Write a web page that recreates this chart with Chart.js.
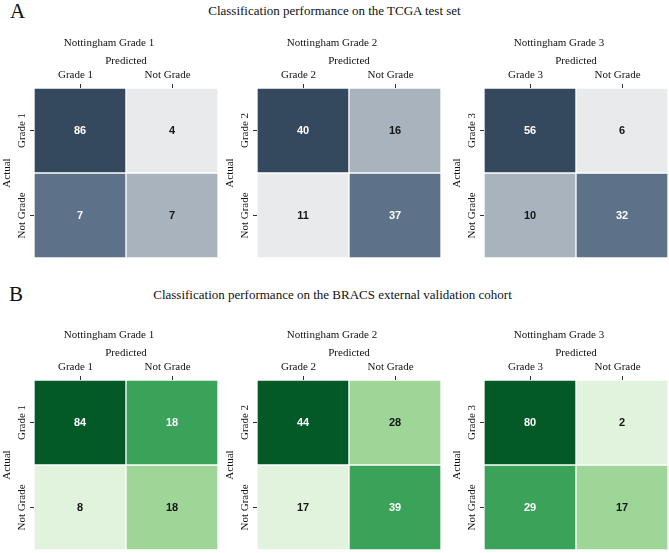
<!DOCTYPE html>
<html><head><meta charset="utf-8">
<script src="https://cdn.jsdelivr.net/npm/chart.js@4/dist/chart.umd.min.js"></script>
<style>
html,body{margin:0;padding:0;background:#fff;width:669px;height:553px;overflow:hidden;position:relative;font-family:'Liberation Serif',serif;}
.lbl{position:absolute;color:#111;white-space:nowrap;}
.box{position:absolute;width:218px;height:228px;}
</style></head><body>
<div class="lbl" style="left:10px;top:1px;font-size:21px;line-height:21px;">A</div>
<div class="lbl" style="left:0;width:669px;text-align:center;top:4px;font-size:13px;line-height:13px;">Classification performance on the TCGA test set</div>
<div class="lbl" style="left:9px;top:284px;font-size:21px;line-height:21px;">B</div>
<div class="lbl" style="left:0;width:665px;text-align:center;top:288px;font-size:13px;line-height:13px;">Classification performance on the BRACS external validation cohort</div>
<div class="box" style="left:0;top:30px"><canvas id="a1"></canvas></div>
<div class="box" style="left:223px;top:30px"><canvas id="a2"></canvas></div>
<div class="box" style="left:450px;top:30px"><canvas id="a3"></canvas></div>
<div class="box" style="left:0;top:322px"><canvas id="b1"></canvas></div>
<div class="box" style="left:223px;top:322px"><canvas id="b2"></canvas></div>
<div class="box" style="left:450px;top:322px"><canvas id="b3"></canvas></div>
<script>
// ---- data ----
const gradeTitles = ["Nottingham Grade 1", "Nottingham Grade 2", "Nottingham Grade 3"];
const gradeLabels = ["Grade 1", "Grade 2", "Grade 3"];
const otherLabel = "Not Grade";
// row-major: [actual grade/pred grade, actual grade/pred not, actual not/pred grade, actual not/pred not]
const tcgaG1 = [86, 4, 7, 7];
const tcgaG2 = [40, 16, 11, 37];
const tcgaG3 = [56, 6, 10, 32];
const bracsG1 = [84, 18, 8, 18];
const bracsG2 = [44, 28, 17, 39];
const bracsG3 = [80, 2, 29, 17];

// ---- styles ----
const bluePalette = ['#35495e', '#5d7189', '#a9b3be', '#e9eaec'];
const greenPalette = ['#035a27', '#3ba25a', '#9dd697', '#e1f3dc'];
const serif = 'Liberation Serif';
const txt = '#111';

function ranks(vals) {
  const idx = vals.map((v, i) => i).sort((a, b) => (vals[b] - vals[a]) || (a - b));
  const r = new Array(vals.length);
  idx.forEach((k, pos) => r[k] = pos);
  return r;
}

const cellText = {
  id: 'cellText',
  afterDatasetsDraw(chart) {
    const o = chart.options.plugins.cellText;
    const ctx = chart.ctx;
    ctx.save();
    ctx.font = 'bold 11px "Liberation Sans", Arial, sans-serif';
    ctx.textAlign = 'center';
    ctx.textBaseline = 'middle';
    chart.data.datasets.forEach((ds, r) => {
      chart.getDatasetMeta(r).data.forEach((bar, c) => {
        const k = r * ds.data.length + c;
        const p = bar.getCenterPoint();
        ctx.fillStyle = o.rank[k] < 2 ? '#ffffff' : '#151515';
        ctx.fillText(String(o.values[k]), p.x, p.y + 0.5);
      });
    });
    ctx.restore();
  }
};

function makeMatrix(id, title, values, gradeIdx, palette) {
  const labels = [gradeLabels[gradeIdx], otherLabel];
  const rk = ranks(values);
  const n = labels.length;
  const datasets = labels.map((rowLab, r) => ({
    label: rowLab,
    data: labels.map(() => [n - 1 - r, n - r]),
    backgroundColor: labels.map((_, c) => palette[rk[r * n + c]]),
    borderColor: '#ffffff',
    borderWidth: 1,
    borderSkipped: false,
    grouped: false,
    barPercentage: 1,
    categoryPercentage: 1
  }));
  const f = { family: serif, size: 11, weight: 'normal' };
  new Chart(document.getElementById(id), {
    type: 'bar',
    data: { labels, datasets },
    plugins: [cellText],
    options: {
      responsive: true, maintainAspectRatio: false, animation: false,
      layout: { padding: 0 },
      plugins: {
        legend: { display: false }, tooltip: { enabled: false },
        title: { display: true, text: title, color: txt, font: f, padding: { top: 6.5, bottom: 2.3 } },
        cellText: { values, rank: rk }
      },
      scales: {
        x: {
          position: 'top', offset: true,
          grid: { display: true, offset: false, drawOnChartArea: false, drawTicks: true, tickLength: 4, color: '#333' },
          border: { display: false },
          ticks: { color: txt, font: f, padding: 2.4, maxRotation: 0, minRotation: 0, labelOffset: -4.5 },
          title: { display: true, text: 'Predicted', color: txt, font: f, padding: { top: 3, bottom: 0 } },
          afterFit: s => { s.height = 36; }
        },
        y: {
          type: 'linear', min: 0, max: n, position: 'left',
          afterBuildTicks: s => { s.ticks = labels.map((_, r) => ({ value: n - 0.5 - r })); },
          grid: { display: true, drawOnChartArea: false, drawTicks: true, tickLength: 4, color: '#333' },
          border: { display: false },
          ticks: {
            color: txt, font: f, minRotation: 90, maxRotation: 90, crossAlign: 'center', padding: -15,
            callback: v => labels[Math.round(n - 0.5 - v)]
          },
          title: { display: true, text: 'Actual', color: txt, font: f, padding: { top: 0.5, bottom: 0 } },
          afterFit: s => { s.width = 34; }
        }
      }
    }
  });
}

makeMatrix('a1', gradeTitles[0], tcgaG1, 0, bluePalette);
makeMatrix('a2', gradeTitles[1], tcgaG2, 1, bluePalette);
makeMatrix('a3', gradeTitles[2], tcgaG3, 2, bluePalette);
makeMatrix('b1', gradeTitles[0], bracsG1, 0, greenPalette);
makeMatrix('b2', gradeTitles[1], bracsG2, 1, greenPalette);
makeMatrix('b3', gradeTitles[2], bracsG3, 2, greenPalette);
</script>
</body></html>
